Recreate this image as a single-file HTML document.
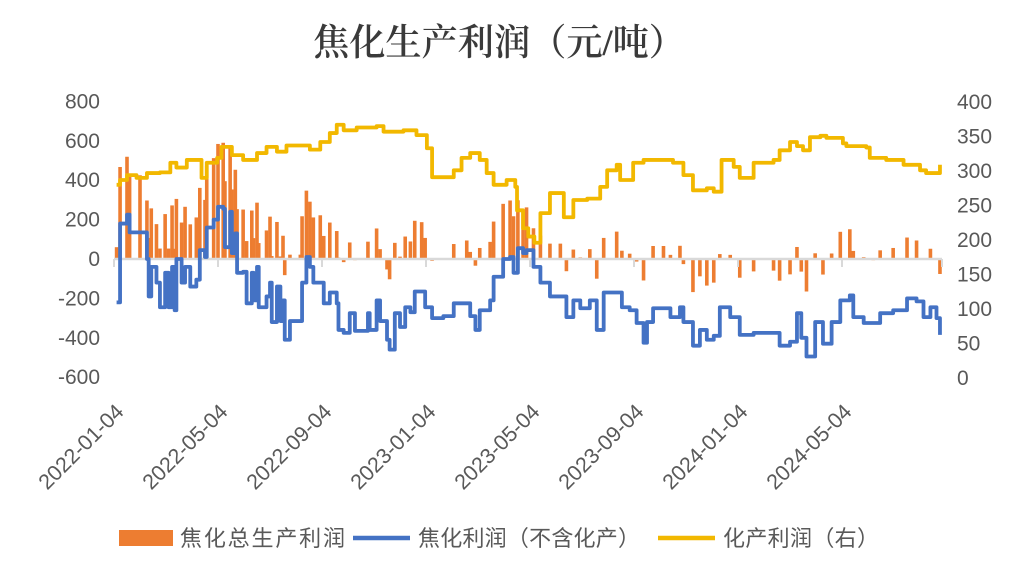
<!DOCTYPE html>
<html><head><meta charset="utf-8">
<style>
html,body{margin:0;padding:0;background:#fff;}
svg{display:block;font-family:"Liberation Sans","Noto Sans CJK SC",sans-serif;}
</style></head>
<body>
<svg id="chart" width="1014" height="576" viewBox="0 0 1014 576">
<text x="313" y="55" font-size="37" font-weight="600" fill="#3a3a3a" textLength="372" lengthAdjust="spacingAndGlyphs" style="font-family:'Liberation Serif','Noto Serif CJK SC',serif">焦化生产利润（元/吨）</text>
<g id="plot"></g>
<g>
<g>
<rect x="119" y="530" width="54" height="16" fill="#ED7D31"/>
<text x="180" y="546" font-size="22" fill="#595959" textLength="165">焦化总生产利润</text></g>
<g>
<line x1="353" y1="538" x2="410" y2="538" stroke="#4472C4" stroke-width="4.5"/>
<text x="418" y="546" font-size="22" fill="#595959" textLength="222">焦化利润（不含化产）</text></g>
<g>
<line x1="658" y1="538" x2="715" y2="538" stroke="#F2B800" stroke-width="4.5"/>
<text x="723" y="546" font-size="22" fill="#595959" textLength="156">化产利润（右）</text></g>
</g>
</svg>
<script>
const tickLabels=["2022-01-04","2022-05-04","2022-09-04","2023-01-04","2023-05-04","2023-09-04","2024-01-04","2024-05-04"];
const leftTicks=[800,600,400,200,0,-200,-400,-600];
const rightTicks=[400,350,300,250,200,150,100,50,0];
const blueDays=[3,7,15,18,30,38,40,43,49,53,59,63,67,70,72,78,82,88,95,99,105,107,115,120,126,128,134,136,140,142,149,153,159,161,165,167,176,180,182,188,192,195,197,203,215,217,222,226,230,238,242,249,257,259,265,272,278,288,293,295,303,307,315,318,324,330,336,342,347,355,359,367,380,392,407,411,417,422,434,438,449,457,461,466,472,476,484,492,503,515,522,530,538,549,557,565,580,586,595,603,611,615,622,634,642,653,657,668,676,684,692,699,711,722,738,761,768,780,788,793,799,809,818,828,838,849,853,865,876,884,899,915,926,934,942,949,953];
const blueVals=[-220,180,225,135,135,0,-190,-40,-120,-245,-70,-245,-40,-260,0,-120,-40,-140,-105,45,10,160,200,265,255,60,240,30,130,-70,-65,-225,-70,-210,-40,-245,-190,-120,-320,-140,-315,-210,-410,-315,-315,-120,10,-40,-120,-120,-225,-170,-225,-360,-375,-275,-365,-365,-275,-360,-210,-315,-410,-460,-275,-345,-245,-270,-165,-165,-245,-300,-290,-225,-225,-290,-360,-260,-210,-90,0,10,-70,55,30,45,-40,-120,-190,-190,-295,-210,-250,-210,-360,-170,-170,-245,-260,-325,-425,-320,-250,-250,-295,-245,-320,-440,-360,-410,-390,-245,-295,-385,-375,-375,-440,-420,-275,-400,-495,-320,-430,-320,-210,-185,-295,-325,-325,-275,-260,-200,-215,-295,-245,-300,-385];
const barVals=[60,467,519,429,425,297,107,257,177,53,228,53,272,52,305,185,265,176,211,361,300,472,512,584,590,395,575,353,453,253,251,91,246,106,286,81,145,215,15,188,13,118,-82,22,22,217,347,291,211,222,117,185,142,7,-16,84,-6,-2,88,3,155,50,-53,-103,82,12,114,89,194,187,107,-9,1,76,94,36,-34,56,87,190,280,297,217,298,247,262,156,119,78,78,-62,48,8,50,-100,107,139,42,27,-13,-109,-4,66,66,21,67,-26,-168,-88,-135,-120,25,21,-95,-63,-59,-110,-78,61,-64,-165,29,-79,28,138,151,41,9,-6,44,56,109,94,2,52,-3,-76];
const chemDays=[3,7,15,26,38,53,65,72,84,97,101,107,119,124,132,136,149,165,176,188,199,226,238,249,257,265,280,303,311,334,349,361,367,384,392,401,411,422,430,438,453,463,465,472,478,485,492,503,515,519,530,546,561,569,580,584,599,611,645,657,668,684,692,701,715,722,738,761,768,780,788,795,803,815,822,841,845,868,872,891,911,930,937,953];
const chemVals=[280,287,294,290,297,298,312,305,316,316,290,312,319,335,335,323,316,326,335,328,337,331,342,355,367,359,363,365,357,359,352,333,291,291,301,319,326,316,297,280,287,277,243,217,205,196,239,268,268,233,258,260,277,301,309,287,312,316,312,294,272,275,270,316,306,290,312,316,330,342,336,330,349,351,348,340,336,334,319,316,309,301,297,309];

const NS="http://www.w3.org/2000/svg";
const g=document.getElementById('plot');
const X0=114, PX_PER_DAY=0.8667;
const xs=d=>X0+d*PX_PER_DAY;
const yL=v=>259-v*0.197;
const yR=v=>378-v*0.69;
function mk(tag,attrs,parent){const e=document.createElementNS(NS,tag);for(const k in attrs)e.setAttribute(k,attrs[k]);(parent||g).appendChild(e);return e;}
function stepPts(days,vals,ys){let p=[];days.forEach((d,i)=>{const x=xs(d),y=ys(vals[i]);if(i>0)p.push(x+','+ys(vals[i-1]));p.push(x+','+y);});return p.join(' ');}

leftTicks.forEach(v=>{const t=mk('text',{x:100,y:yL(v)+7,'text-anchor':'end','font-size':21,fill:'#595959'});t.textContent=v;

});
rightTicks.forEach(v=>{const t=mk('text',{x:957,y:yR(v)+7,'text-anchor':'start','font-size':21,fill:'#595959'});t.textContent=v;

});

barVals.forEach((v,i)=>{const y=yL(Math.max(v,0)),h=Math.abs(yL(v)-yL(0));
const r=mk('rect',{x:xs(blueDays[i])-1.8,y:y,width:3.6,height:Math.max(h,0.5),fill:'#ED7D31'});

});

const ax=mk('line',{x1:X0,y1:259,x2:942,y2:259,stroke:'#D9D9D9','stroke-width':2.5});


tickLabels.forEach((s,i)=>{const x=X0+i*104;
const tk=mk('line',{x1:x,y1:259,x2:x,y2:267,stroke:'#D9D9D9','stroke-width':2});


const t=mk('text',{x:0,y:0,'text-anchor':'end','font-size':21.5,fill:'#595959',transform:`translate(${x+11},${413}) rotate(-45)`});t.textContent=s;

});
mk('line',{x1:942,y1:259,x2:942,y2:267,stroke:'#D9D9D9','stroke-width':2});

const yp=mk('polyline',{points:stepPts(chemDays,chemVals,yR),fill:'none',stroke:'#F2B800','stroke-width':3.8,'stroke-linejoin':'round'});


const bp=mk('polyline',{points:stepPts(blueDays,blueVals,yL),fill:'none',stroke:'#4472C4','stroke-width':3.8,'stroke-linejoin':'round'});


</script>
</body></html>
